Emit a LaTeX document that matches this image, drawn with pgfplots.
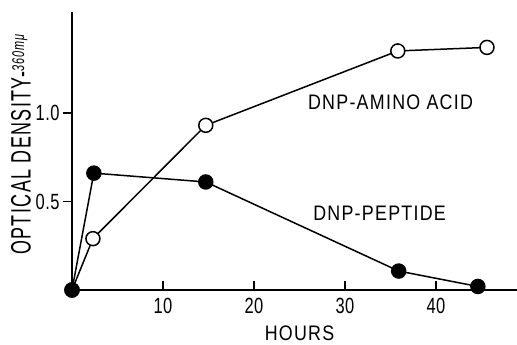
\documentclass[border=0pt]{standalone}
\usepackage{fontspec}
\setmainfont{Liberation Sans}[FakeStretch=0.85,LetterSpace=6]
\newfontfamily\ylab{Liberation Sans}[FakeStretch=0.64,LetterSpace=5]
\newfontfamily\ticks{Liberation Sans}[FakeStretch=0.75,LetterSpace=2]
\usepackage{pgfplots}
\pgfplotsset{compat=1.18}
\pgfplotstableread{
x y
0 0
2.3 0.29
14.7 0.93
35.8 1.35
45.6 1.37
}\amino
\pgfplotstableread{
x y
0 0
2.4 0.66
14.7 0.61
35.9 0.107
44.6 0.02
}\peptide
\begin{document}
\begin{tikzpicture}
\path[use as bounding box] (-72pt,-55pt) rectangle (445pt,290pt);
\begin{axis}[
  scale only axis, width=445pt, height=278pt,
  xmin=0, xmax=48.9, ymin=0, ymax=1.57,
  axis x line=bottom, axis y line=left,
  axis line style={-, line width=1.6pt},
  clip=false,
  xtick={10,20,30,40}, ytick={0.5,1.0},
  xticklabels={10,20,30,40}, yticklabels={0.5,1.0},
  x tick style={line width=1.6pt, black}, y tick style={line width=1.6pt, black},
  xtick align=inside, ytick align=outside,
  major tick length=9pt,
  ticklabel style={font=\ticks\fontsize{22}{24}\selectfont},
  xticklabel style={yshift=-5pt},
  yticklabel style={xshift=0pt},
]
\addplot[black, line width=1.5pt, mark=*, mark options={fill=white, line width=1.5pt}, mark size=7pt] table {\amino};
\addplot[black, line width=1.5pt, mark=*, mark options={fill=black}, mark size=7pt] table {\peptide};
\node[font=\fontsize{21}{24}\selectfont] at (axis cs:35,1.06) {DNP-AMINO ACID};
\node[font=\fontsize{21}{24}\selectfont] at (axis cs:33.8,0.435) {DNP-PEPTIDE};
\node[font=\fontsize{21}{24}\selectfont, inner sep=0pt] at (axis cs:25.0,-0.245) {HOURS};
\node[rotate=90, font=\ylab\fontsize{28}{30}\selectfont] at (axis cs:-5.6,0.82) {OPTICAL DENSITY-\raisebox{6.5pt}{\fontsize{17}{20}\selectfont\itshape 360mμ}};
\end{axis}
\end{tikzpicture}
\end{document}
